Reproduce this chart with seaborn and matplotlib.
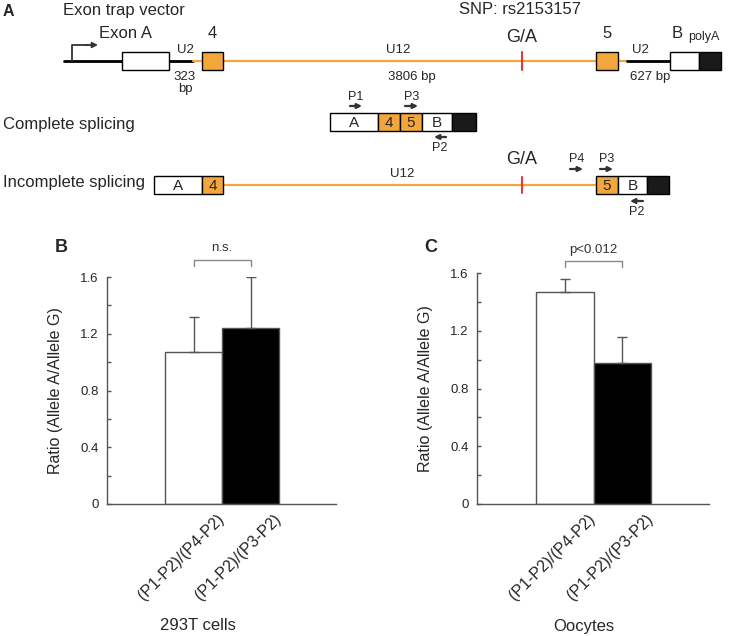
import numpy as np
import pandas as pd
import matplotlib
matplotlib.use("Agg")
import matplotlib.pyplot as plt
import matplotlib.transforms as mtrans
import seaborn as sns

# values
groups = ["(P1-P2)/(P4-P2)", "(P1-P2)/(P3-P2)"]
cells_293t = [1.07, 1.24]
cells_293t_err = [0.25, 0.36]
oocytes = [1.47, 0.98]
oocytes_err = [0.09, 0.18]
yticks = [0, 0.4, 0.8, 1.2, 1.6]
sig_text = ["n.s.", "p<0.012"]
cell_types = ["293T cells", "Oocytes"]

sns.set_style("ticks")
plt.rcParams["font.family"] = ["Liberation Sans", "DejaVu Sans"]

ORANGE = "#F3A63B"
RED = "#E53935"
GREY = "#555555"
DARK = "#333333"

fig = plt.figure(figsize=(7.3, 6.36), dpi=100)

# panel A is a schematic, drawn in pixel coordinates of the figure
ax0 = fig.add_axes([0, 0, 1, 1])
ax0.set_xlim(0, 730)
ax0.set_ylim(636, 0)
ax0.axis("off")


def box(x0, x1, y, label=None, color="white", h=18, size=12):
    ax0.add_patch(plt.Rectangle((x0, y - h / 2), x1 - x0, h, facecolor=color,
                                edgecolor="black", lw=1, zorder=3))
    if label:
        ax0.text((x0 + x1) / 2, y + 1, label, ha="center", va="center",
                 fontsize=size, zorder=4)


def primer(x0, x1, y, name, label_y):
    ax0.annotate("", xy=(x1, y), xytext=(x0, y),
                 arrowprops=dict(arrowstyle="-|>", color=DARK, lw=1.6,
                                 mutation_scale=7, shrinkA=0, shrinkB=0))
    ax0.text((x0 + x1) / 2, label_y, name, ha="center", va="center", fontsize=9)


def txt(x, y, s, size=12, ha="center", **kw):
    ax0.text(x, y, s, ha=ha, va="center", fontsize=size, **kw)


# exon trap vector
txt(3, 11, "A", size=11.5, ha="left", weight="bold")
txt(63, 11, "Exon trap vector", ha="left")
txt(520, 10, "SNP: rs2153157")
ax0.plot([64, 193], [61, 61], color="black", lw=2, zorder=1)
ax0.plot([193, 627], [61, 61], color=ORANGE, lw=1.6, zorder=1)
ax0.plot([627, 670], [61, 61], color="black", lw=2, zorder=1)
ax0.plot([72, 72, 88], [61, 45, 45], color=DARK, lw=1.3)
ax0.annotate("", xy=(98, 45), xytext=(86, 45),
             arrowprops=dict(arrowstyle="-|>", color=DARK, lw=1.3,
                             mutation_scale=8, shrinkA=0, shrinkB=0))
box(122, 169, 61)
box(202, 223, 61, color=ORANGE)
box(596, 618, 61, color=ORANGE)
box(670, 699, 61)
box(699, 721, 61, color="#1a1a1a")
ax0.plot([522, 522], [52, 70], color=RED, lw=1.5, zorder=2)
txt(99, 33, "Exon A", ha="left")
txt(212, 33, "4")
txt(522, 37, "G/A", size=13)
txt(607, 33, "5")
txt(677, 33, "B")
txt(688, 37, "polyA", size=9, ha="left")
txt(185, 50, "U2", size=9.5)
txt(185, 77, "323", size=9.5)
txt(185, 89, "bp", size=9.5)
txt(398, 50, "U12", size=9.5)
txt(412, 77, "3806 bp", size=9.5)
txt(640, 50, "U2", size=9.5)
txt(650, 77, "627 bp", size=9.5)

# complete splicing
txt(3, 124, "Complete splicing", ha="left")
box(330, 378, 122, "A", size=11)
box(378, 400, 122, "4", color=ORANGE, size=11)
box(400, 422, 122, "5", color=ORANGE, size=11)
box(422, 452, 122, "B", size=11)
box(452, 476, 122, color="#1a1a1a")
primer(350, 362, 106, "P1", 97)
primer(405, 418, 106, "P3", 97)
primer(446, 434, 137, "P2", 148)

# incomplete splicing
txt(3, 183, "Incomplete splicing", ha="left")
ax0.plot([223, 596], [185, 185], color=ORANGE, lw=1.6, zorder=1)
box(154, 202, 185, "A", size=11)
box(202, 223, 185, "4", color=ORANGE, size=11)
box(596, 618, 185, "5", color=ORANGE, size=11)
box(618, 647, 185, "B", size=11)
box(647, 669, 185, color="#1a1a1a")
ax0.plot([522, 522], [177, 193], color=RED, lw=1.5, zorder=2)
txt(402, 174, "U12", size=9.5)
txt(522, 160, "G/A", size=13)
primer(570, 583, 169, "P4", 159)
primer(600, 613, 169, "P3", 159)
primer(643, 630, 201, "P2", 212)

# panel letters B and C
txt(61, 248, "B", size=13, weight="bold")
txt(431, 248, "C", size=13, weight="bold")


def bar_panel(rect, vals, errs, sig, xlabel, label_x):
    ax = fig.add_axes(rect)
    df = pd.DataFrame({"group": groups, "ratio": vals})
    sns.barplot(data=df, x="group", y="ratio", hue="group",
                palette=["white", "black"], width=1, edgecolor=GREY,
                linewidth=1, legend=False, ax=ax)
    pos = np.arange(len(vals))
    ax.errorbar(pos, vals, yerr=[np.zeros(len(errs)), errs], fmt="none",
                ecolor=GREY, elinewidth=1, capsize=3.5, capthick=1)
    ax.set_xlim(-1.52, 2.5)
    ax.set_ylim(0, 1.6)
    ax.set_yticks(yticks)
    ax.set_yticklabels([f"{t:g}" for t in yticks])
    ax.set_yticks(np.arange(0.2, 1.6, 0.4), minor=True)
    ax.tick_params(axis="y", which="both", direction="in", length=3,
                   width=1, color=GREY, labelsize=9.5, pad=6)
    ax.tick_params(axis="x", length=0, labelsize=11.5)
    ax.set_xticks(pos)
    ax.set_xticklabels(groups, rotation=45, ha="right", va="center",
                       rotation_mode="anchor")
    shift = mtrans.ScaledTranslation(28 / 100, -8 / 100, fig.dpi_scale_trans)
    for lab in ax.get_xticklabels():
        lab.set_transform(lab.get_transform() + shift)
    for s in ["left", "bottom"]:
        ax.spines[s].set_color(GREY)
        ax.spines[s].set_linewidth(1)
    sns.despine(ax=ax)
    ax.set_ylabel("Ratio (Allele A/Allele G)", fontsize=11.5)
    ax.yaxis.set_label_coords(-0.19, 0.5)
    ax.set_xlabel(xlabel, fontsize=12)
    ax.xaxis.set_label_coords(label_x, -0.5)
    # significance bracket
    top = max(np.add(vals, errs)) + 0.12
    ax.plot([0, 0, 1, 1], [top - 0.04, top, top, top - 0.04], color="#888888",
            lw=1, clip_on=False)
    ax.text(0.5, top + 0.04, sig, ha="center", va="bottom", fontsize=9.5,
            color=DARK)
    return ax


bar_panel([107 / 730, 132 / 636, 229 / 730, 227 / 636], cells_293t,
          cells_293t_err, sig_text[0], cell_types[0], 0.395)
bar_panel([477 / 730, 132 / 636, 232 / 730, 231 / 636], oocytes,
          oocytes_err, sig_text[1], cell_types[1], 0.461)

fig.savefig("out.png", dpi=100)
